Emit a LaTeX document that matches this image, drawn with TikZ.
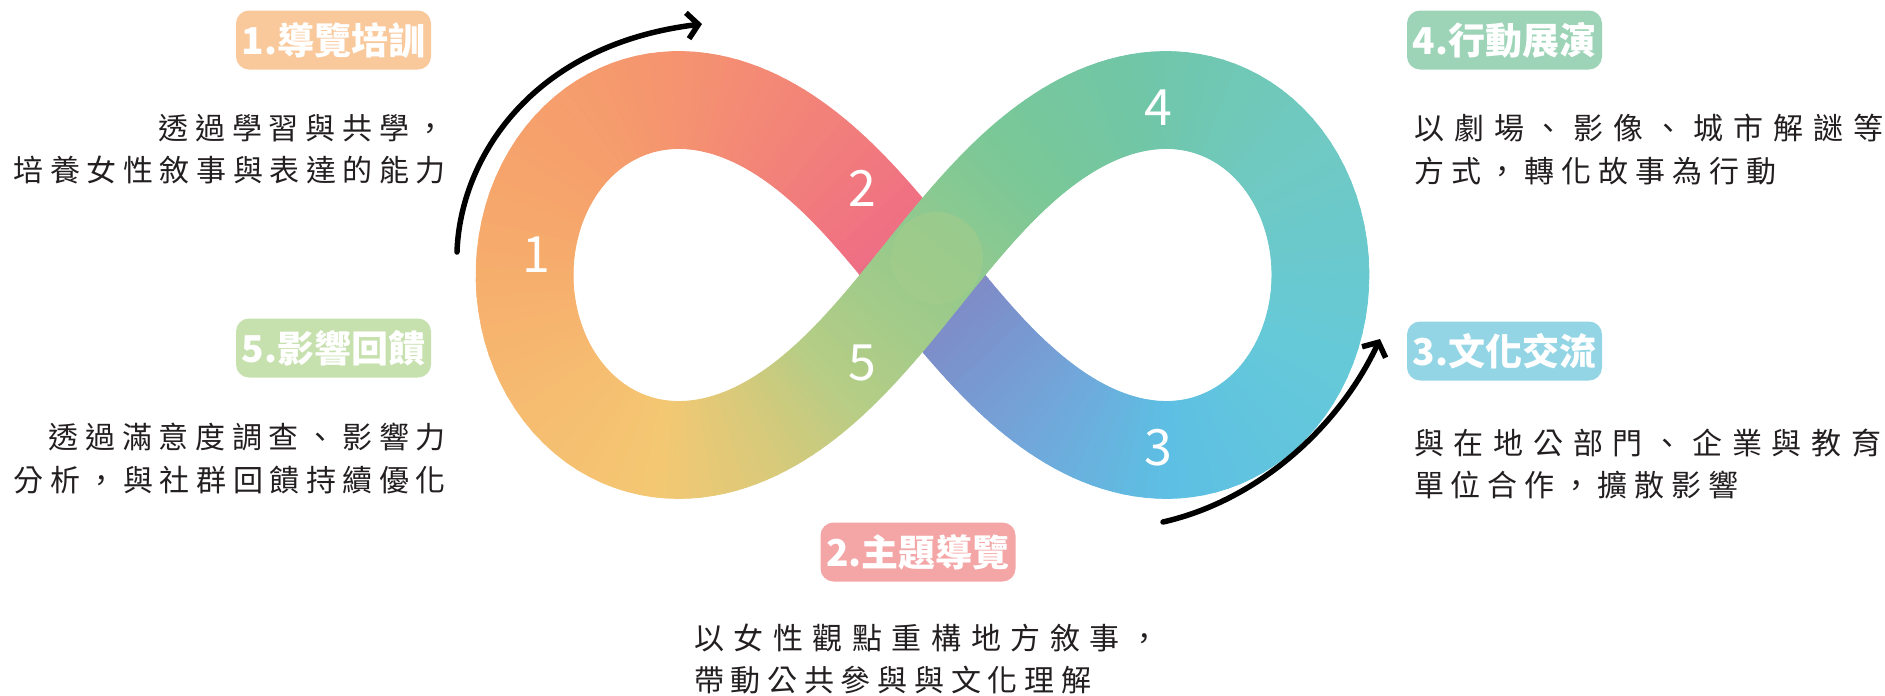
\documentclass[tikz,border=0pt]{standalone}
\usepackage{fontspec}
\newfontfamily\cjk{Noto Sans CJK TC}
\usetikzlibrary{arrows.meta}

\definecolor{txt}{HTML}{231F20}
\definecolor{labA}{HTML}{F9C99C}
\definecolor{labB}{HTML}{F4A5A6}
\definecolor{labC}{HTML}{93D5E5}
\definecolor{labD}{HTML}{9DD4B7}
\definecolor{labE}{HTML}{C6E0AE}
% band colours
\definecolor{cX}{HTML}{98CA8C}
\definecolor{cF}{HTML}{B6CD85}
\definecolor{cYG}{HTML}{D3CA7C}
\definecolor{cY}{HTML}{F4C872}
\definecolor{cYO}{HTML}{F6BA70}
\definecolor{cO}{HTML}{F6A66B}
\definecolor{cOt}{HTML}{F5976E}
\definecolor{cS}{HTML}{F38677}
\definecolor{cP}{HTML}{EF6E84}
\definecolor{cV}{HTML}{7E8BC7}
\definecolor{cVt}{HTML}{74A3D8}
\definecolor{cB}{HTML}{5DBFE3}
\definecolor{cTa}{HTML}{65C9D9}
\definecolor{cT}{HTML}{70C9C2}
\definecolor{cGa}{HTML}{70C6A6}
\definecolor{cGb}{HTML}{7BC897}
\definecolor{blobc}{HTML}{A6CD8A}

% spread the characters of a line over a given width
\def\jchars#1{\jcharsA#1\jend}
\def\jcharsA#1#2\jend{#1\if\relax\detokenize{#2}\relax\else\hskip 0pt plus 1fil\relax\jcharsA#2\jend\fi}
\newcommand\jline[2]{\hbox to #1pt{\jchars{#2}}}

% lemniscate centre line
\def\lemA{398}\def\lemB{495}\def\lemX{922.5}\def\lemY{275}\def\lemH{48.5}
\newcommand\lempt[2]{%
  \pgfmathsetmacro\qqS{sin(#1)}%
  \pgfmathsetmacro\qqC{cos(#1)}%
  \pgfmathsetmacro\qqD{1+\qqS*\qqS}%
  \pgfmathsetmacro\qqX{\lemX+\lemA*\qqC/\qqD}%
  \pgfmathsetmacro\qqY{\lemY-\lemB*\qqS*\qqC/\qqD}%
  \pgfmathsetmacro\qqTx{-0.398*\qqS*(3-\qqS*\qqS)}%
  \pgfmathsetmacro\qqTy{-0.495*(1-3*\qqS*\qqS)}%
  \pgfmathsetmacro\qqL{veclen(\qqTx,\qqTy)}%
  \pgfmathsetmacro\qqNx{-\qqTy/\qqL}%
  \pgfmathsetmacro\qqNy{\qqTx/\qqL}%
  \coordinate (#2o) at ({\qqX+\lemH*\qqNx},{\qqY+\lemH*\qqNy});%
  \coordinate (#2i) at ({\qqX-\lemH*\qqNx},{\qqY-\lemH*\qqNy});%
}
\newcommand\bandsec[5]{%
  \foreach \j in {1,...,#5}{%
    \pgfmathsetmacro\tA{#1+(#2-#1)*(\j-1)/#5}%
    \pgfmathsetmacro\tB{#1+(#2-#1)*\j/#5}%
    \pgfmathsetmacro\pc{100*(\j-0.5)/#5}%
    \colorlet{segc}{#4!\pc!#3}%
    \lempt{\tA}{P}\lempt{\tB}{Q}%
    \fill[segc,draw=segc,line width=0.8pt,line join=round] (Po)--(Qo)--(Qi)--(Pi)--cycle;
  }}

\begin{document}
\begin{tikzpicture}[x=1pt,y=-1pt,
  body/.style={inner sep=0pt, text=txt, font=\cjk\fontsize{30}{36}\selectfont},
  lab/.style={rounded corners=13pt, minimum width=195pt, minimum height=59pt, inner sep=0pt, text=white, font=\cjk\bfseries\fontsize{37}{44}\selectfont},
  num/.style={inner sep=0pt, text=white, font=\cjk\fontsize{50}{60}\selectfont},
  flow/.style={line width=5.5pt, line cap=round, -{Straight Barb[length=11pt,width=26pt]}}]
\useasboundingbox (0,0) rectangle (1885,696);

% ---- infinity band (lower strand first, green crossing strand last)
\bandsec{115}{128}{cF}{cYG}{9}
\bandsec{128}{148}{cYG}{cY}{13}
\bandsec{148}{168}{cY}{cYO}{13}
\bandsec{168}{188}{cYO}{cO}{14}
\bandsec{188}{210}{cO}{cOt}{15}
\bandsec{210}{232}{cOt}{cS}{15}
\bandsec{232}{262}{cS}{cP}{20}
\bandsec{262}{278}{cP}{cV}{10}
\bandsec{278}{300}{cV}{cVt}{15}
\bandsec{300}{325}{cVt}{cB}{17}
\bandsec{325}{350}{cB}{cTa}{17}
\bandsec{350}{375}{cTa}{cT}{17}
\bandsec{375}{400}{cT}{cGa}{17}
\bandsec{400}{425}{cGa}{cGb}{17}
\bandsec{425}{450}{cGb}{cX}{17}
\bandsec{450}{475}{cX}{cF}{17}
\fill[blobc, opacity=0.5] (937,258) circle (46);

% ---- numbers on the band
\node[num] (n1) at (536,255) {1};
\node[num] (n2) at (862,188) {2};
\node[num] (n3) at (1158,448) {3};
\node[num] (n4) at (1158,108) {4};
\node[num] (n5) at (862,363) {5};

% ---- arrows
\coordinate (a1s) at (457,252); \coordinate (a1e) at (702,24);
\draw[flow] (a1s) .. controls (460,160) and (530,45) .. (a1e);
\coordinate (a3s) at (1163,522); \coordinate (a3e) at (1380,339);
\draw[flow] (a3s) .. controls (1260,500) and (1340,425) .. (a3e);

% ---- labels
\node[lab, fill=labA] (b1) at (333.5,40) {1.導覽培訓};
\node[lab, fill=labE] (b5) at (333.5,348) {5.影響回饋};
\node[lab, fill=labD] (b4) at (1504.5,40) {4.行動展演};
\node[lab, fill=labC] (b3) at (1504.5,351) {3.文化交流};
\node[lab, fill=labB] (b2) at (918,552) {2.主題導覽};

% ---- descriptions
\node[body, anchor=east] (t1a) at (446,128) {\jline{287}{透過學習與共學，}};
\node[body, anchor=east] (t1b) at (446,170) {\jline{432}{培養女性敘事與表達的能力}};
\node[body, anchor=east] (t5a) at (446,437) {\jline{397}{透過滿意度調查、影響力}};
\node[body, anchor=east] (t5b) at (446,480) {\jline{432}{分析，與社群回饋持續優化}};
\node[body, anchor=west] (t4a) at (1414,128) {\jline{469}{以劇場、影像、城市解謎等}};
\node[body, anchor=west] (t4b) at (1414,171) {\jline{362}{方式，轉化故事為行動}};
\node[body, anchor=west] (t3a) at (1414,443) {\jline{467}{與在地公部門、企業與教育}};
\node[body, anchor=west] (t3b) at (1414,485) {\jline{324}{單位合作，擴散影響}};
\node[body, anchor=west] (t2a) at (694,638) {\jline{465}{以女性觀點重構地方敘事，}};
\node[body, anchor=west] (t2b) at (694,680) {\jline{397}{帶動公共參與與文化理解}};
\end{tikzpicture}
\end{document}
